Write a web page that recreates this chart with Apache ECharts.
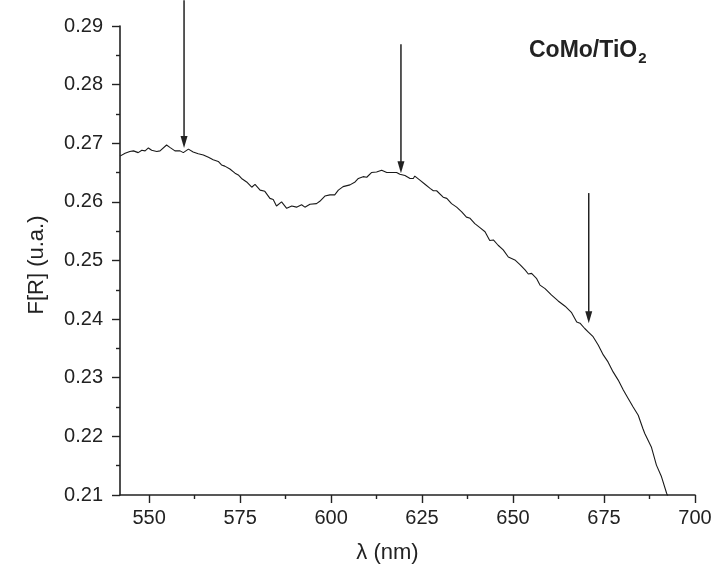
<!DOCTYPE html>
<html>
<head>
<meta charset="utf-8">
<script src="https://cdn.jsdelivr.net/npm/echarts@6/dist/echarts.min.js"></script>
<style>
  html, body { margin: 0; padding: 0; background: #fff; }
  #chart { width: 715px; height: 569px; }
</style>
</head>
<body>
<div id="chart"></div>
<script>
// wavelength (nm) and F[R]
const wavelength = [
  542.0, 543.4, 544.7, 545.7, 547.0, 548.0, 548.9, 549.8, 550.7, 552.1,
  553.0, 554.8, 555.7, 557.1, 558.5, 559.4, 560.8, 562.1, 563.5, 564.9,
  566.3, 567.6, 569.0, 569.9, 570.8, 572.2, 573.6, 574.5, 575.4, 576.8,
  578.2, 579.1, 580.5, 581.8, 583.2, 584.1, 585.0, 586.4, 587.8, 589.2,
  590.5, 591.9, 592.8, 594.2, 596.0, 596.9, 598.3, 599.7, 601.0, 602.0,
  603.3, 605.2, 606.6, 607.5, 608.8, 609.8, 611.1, 612.5, 613.9, 615.3,
  616.6, 618.0, 618.9, 620.3, 621.7, 622.6, 623.0, 624.4, 625.8, 627.2,
  628.1, 629.0, 630.8, 631.8, 633.1, 634.5, 635.9, 637.2, 638.2, 639.5,
  640.9, 642.3, 643.6, 644.6, 645.9, 647.3, 648.7, 650.5, 651.9, 653.3,
  654.2, 655.1, 656.5, 657.4, 658.8, 660.6, 662.4, 664.3, 666.1, 667.5,
  668.4, 669.7, 670.7, 672.0, 673.4, 674.8, 676.1, 677.5, 678.9, 680.3,
  681.6, 683.0, 684.4, 685.7, 686.2, 688.0, 689.4, 690.8, 692.2, 693.1
];
const fr = [
  0.2678, 0.2683, 0.2686, 0.2687, 0.2684, 0.2688, 0.2687, 0.2692, 0.2688, 0.2686,
  0.2687, 0.2697, 0.2693, 0.2687, 0.2687, 0.2684, 0.2690, 0.2685, 0.2682, 0.2680,
  0.2676, 0.2672, 0.2669, 0.2663, 0.2661, 0.2656, 0.2649, 0.2646, 0.2640, 0.2634,
  0.2625, 0.2630, 0.2620, 0.2618, 0.2606, 0.2604, 0.2593, 0.2600, 0.2589, 0.2593,
  0.2591, 0.2595, 0.2591, 0.2596, 0.2597, 0.2601, 0.2610, 0.2612, 0.2612, 0.2620,
  0.2626, 0.2629, 0.2634, 0.2640, 0.2643, 0.2642, 0.2650, 0.2651, 0.2654, 0.2650,
  0.2650, 0.2650, 0.2647, 0.2645, 0.2640, 0.2640, 0.2644, 0.2637, 0.2630, 0.2623,
  0.2619, 0.2619, 0.2608, 0.2606, 0.2597, 0.2591, 0.2583, 0.2574, 0.2572, 0.2563,
  0.2556, 0.2549, 0.2534, 0.2535, 0.2526, 0.2518, 0.2506, 0.2501, 0.2493, 0.2484,
  0.2477, 0.2478, 0.2469, 0.2458, 0.2452, 0.2441, 0.2431, 0.2422, 0.2411, 0.2395,
  0.2393, 0.2384, 0.2378, 0.2370, 0.2356, 0.2339, 0.2327, 0.2310, 0.2296, 0.2279,
  0.2265, 0.2250, 0.2236, 0.2213, 0.2205, 0.2182, 0.2151, 0.2131, 0.2103, 0.2090
];

// arrows marking the bands: x position, top of shaft, tip
const arrowX = [559.6, 619.2, 670.8];
const arrowTop = [0.2944, 0.2869, 0.2615];
const arrowTip = [0.2692, 0.2649, 0.2393];

const xTicks = [550, 575, 600, 625, 650, 675, 700];
const xMinorTicks = [562.5, 587.5, 612.5, 637.5, 662.5, 687.5];

const font = "'Liberation Sans', Arial, sans-serif";
const ink = "#222";

const chart = echarts.init(document.getElementById("chart"));

chart.setOption({
  animation: false,
  backgroundColor: "#fff",
  grid: { left: 120, right: 20, top: 26, bottom: 74 },
  xAxis: [
    {
      type: "value",
      min: 542,
      max: 700,
      name: "λ (nm)",
      nameLocation: "middle",
      nameGap: 47,
      nameTextStyle: { fontSize: 22, color: ink, fontFamily: font, padding: [0, 40, 0, 0] },
      axisLine: { onZero: false, lineStyle: { color: ink, width: 1.6 } },
      axisTick: { customValues: xTicks, length: 8, lineStyle: { color: ink, width: 1.4 } },
      axisLabel: {
        customValues: xTicks,
        margin: 13,
        fontSize: 20,
        color: ink,
        fontFamily: font
      },
      splitLine: { show: false }
    },
    {
      // minor ticks only
      type: "value",
      min: 542,
      max: 700,
      position: "bottom",
      axisLine: { show: false },
      axisTick: { customValues: xMinorTicks, length: 4, lineStyle: { color: ink, width: 1.4 } },
      axisLabel: { show: false },
      splitLine: { show: false }
    }
  ],
  yAxis: {
    type: "value",
    min: 0.21,
    max: 0.29,
    interval: 0.01,
    name: "F[R] (u.a.)",
    nameLocation: "middle",
    nameGap: 72,
    nameTextStyle: { fontSize: 22, color: ink, fontFamily: font, padding: [0, 9, 0, 0] },
    axisLine: { show: true, onZero: false, lineStyle: { color: ink, width: 1.6 } },
    axisTick: { show: true, length: 8, lineStyle: { color: ink, width: 1.4 } },
    minorTick: { show: true, splitNumber: 2, length: 4, lineStyle: { color: ink, width: 1.4 } },
    axisLabel: {
      margin: 17,
      fontSize: 20,
      color: ink,
      fontFamily: font,
      formatter: (v) => v.toFixed(2)
    },
    splitLine: { show: false }
  },
  graphic: [
    {
      type: "text",
      left: 529,
      top: 39,
      style: {
        text: "{b|CoMo/TiO}{s|2}",
        rich: {
          b: { fontSize: 23, fontWeight: "bold", fill: ink, fontFamily: font },
          s: { fontSize: 15, fontWeight: "bold", fill: ink, fontFamily: font, padding: [16, 0, 0, 1] }
        }
      }
    }
  ],
  series: [
    {
      type: "line",
      data: wavelength.map((w, i) => [w, fr[i]]),
      showSymbol: false,
      symbol: "none",
      lineStyle: { color: "#1a1a1a", width: 1.1 },
      clip: true
    },
    {
      type: "custom",
      clip: false,
      silent: true,
      data: arrowX.map((x, i) => [x, arrowTop[i], arrowTip[i]]),
      renderItem: (params, api) => {
        const top = api.coord([api.value(0), api.value(1)]);
        const tip = api.coord([api.value(0), api.value(2)]);
        const head = 12;
        const half = 3.5;
        return {
          type: "group",
          children: [
            {
              type: "line",
              shape: { x1: top[0], y1: top[1], x2: tip[0], y2: tip[1] - head + 1 },
              style: { stroke: ink, lineWidth: 1.5 }
            },
            {
              type: "polygon",
              shape: {
                points: [
                  [tip[0] - half, tip[1] - head],
                  [tip[0] + half, tip[1] - head],
                  [tip[0], tip[1]]
                ]
              },
              style: { fill: ink }
            }
          ]
        };
      }
    }
  ]
});
</script>
</body>
</html>
